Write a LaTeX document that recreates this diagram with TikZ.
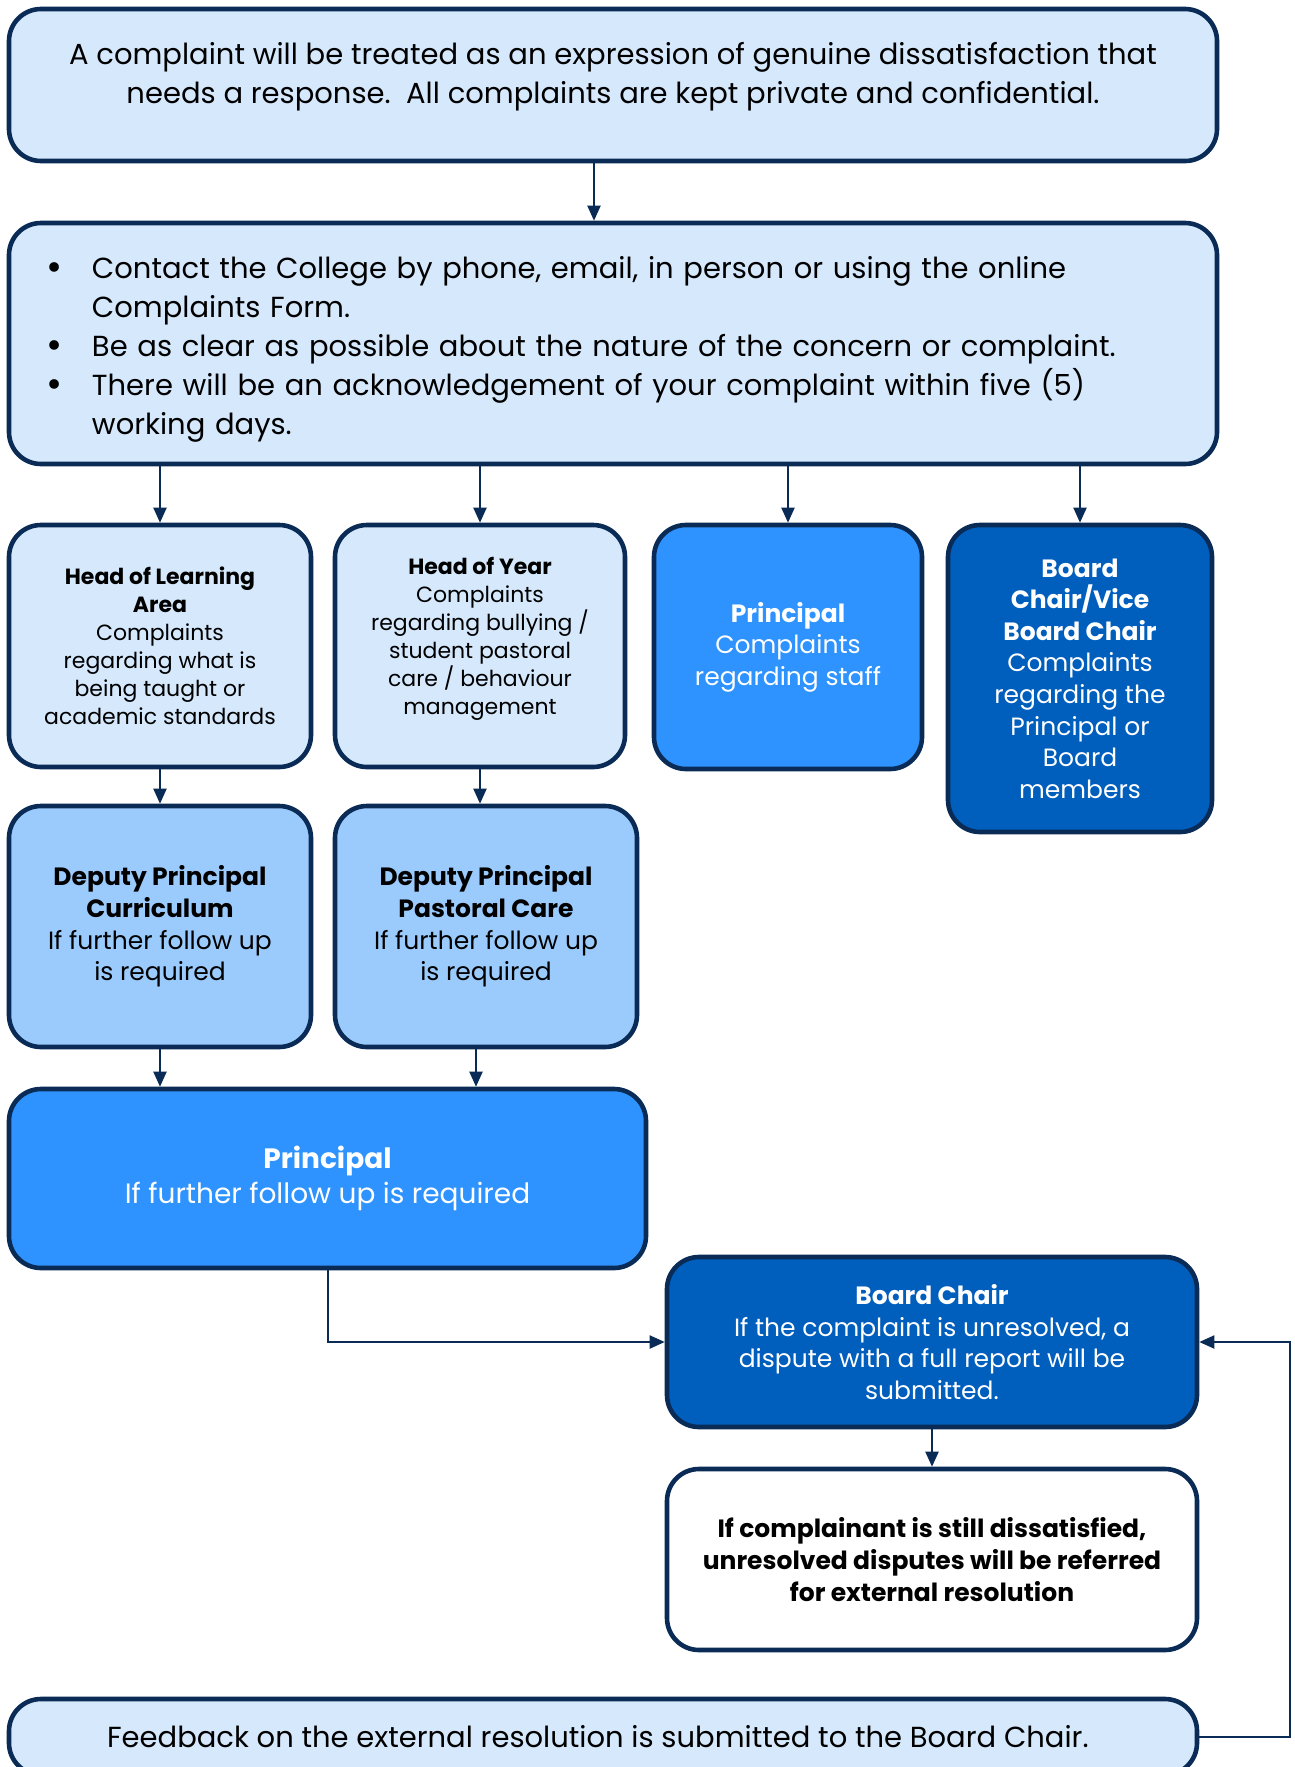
\documentclass[tikz,border=0pt]{standalone}
\usepackage{fontspec}
\setmainfont{Poppins}
\usepackage{xcolor}
\usepackage{tikz}
\definecolor{navy}{HTML}{0A2B55}
\definecolor{paleblue}{HTML}{D5E8FC}
\definecolor{midblue}{HTML}{9ACBFC}
\definecolor{brightblue}{HTML}{2E93FF}
\definecolor{deepblue}{HTML}{005EBD}
\usetikzlibrary{arrows.meta, positioning, calc}

\newcommand{\bul}{\makebox[20.5pt][l]{\hspace{-2pt}\raisebox{-0.8pt}{\scalebox{1.35}{\textbullet}}}}
\newcommand{\ind}{\hspace*{20.5pt}}

\begin{document}
\begin{tikzpicture}[x=0.5pt, y=-0.5pt,
    >={Triangle[length=7.5pt,width=6.5pt]},
    box/.style={draw=navy, line width=2.3pt, rounded corners=16pt, align=center, inner sep=0pt},
    lightbox/.style={box, fill=paleblue, text=black},
    midbox/.style={box, fill=midblue, text=black},
    brightbox/.style={box, fill=brightblue, text=white},
    darkbox/.style={box, fill=deepblue, text=white},
    whitebox/.style={box, fill=white, text=black},
    big/.style={font=\fontsize{14.5}{19.5}\selectfont},
    small/.style={font=\fontsize{11}{14}\selectfont},
    mid/.style={font=\fontsize{12.5}{15.8}\selectfont},
    link/.style={->, draw=navy, line width=1pt}]
    \useasboundingbox (0,0) rectangle (1295,1767);

    \node[lightbox, big, minimum width=604pt, minimum height=76pt] (intro) at (613,85) {
        A complaint will be treated as an expression of genuine dissatisfaction that\\
        needs a response.\ \ All complaints are kept private and confidential.\\[-7.5pt]\mbox{}
    };

    \node[lightbox, big, minimum width=604pt, minimum height=120.5pt, text width=562pt, align=left] (contact) at (613,343.5) {
        \rule{0pt}{17pt}\bul Contact the College by phone, email, in person or using the online\\
        \ind Complaints Form.\\
        \bul Be as clear as possible about the nature of the concern or complaint.\\
        \bul There will be an acknowledgement of your complaint within five (5)\\
        \ind working days.
    };

    \node[lightbox, small, minimum width=151pt, minimum height=121pt] (hola) at (160,646) {
        \textbf{Head of Learning}\\ \textbf{Area}\\ Complaints\\ regarding what is\\ being taught or\\ academic standards
    };
    \node[lightbox, small, minimum width=145pt, minimum height=121pt] (hoy) at (480,646) {
        \textbf{Head of Year}\\ Complaints\\ regarding bullying /\\ student pastoral\\ care / behaviour\\ management\\[-4pt]\mbox{}
    };
    \node[brightbox, mid, minimum width=134pt, minimum height=122pt] (princ) at (788,647) {
        \textbf{Principal}\\ Complaints\\ regarding staff
    };
    \node[darkbox, mid, minimum width=132pt, minimum height=153.5pt] (board) at (1080,678.5) {
        \textbf{Board}\\ \textbf{Chair/Vice}\\ \textbf{Board Chair}\\ Complaints\\ regarding the\\ Principal or\\ Board\\ members
    };

    \node[midbox, mid, minimum width=151pt, minimum height=120.5pt] (dpc) at (160,926.5) {
        \textbf{Deputy Principal}\\ \textbf{Curriculum}\\ If further follow up\\ is required
    };
    \node[midbox, mid, minimum width=151pt, minimum height=120.5pt] (dppc) at (486,926.5) {
        \textbf{Deputy Principal}\\ \textbf{Pastoral Care}\\ If further follow up\\ is required
    };

    \node[brightbox, font=\fontsize{14}{17.5}\selectfont, minimum width=318.5pt, minimum height=89.5pt] (princ2) at (327.5,1178.5) {
        \textbf{Principal}\\ If further follow up is required
    };

    \node[darkbox, mid, minimum width=265pt, minimum height=85pt] (bchair) at (932,1342) {
        \textbf{Board Chair}\\ If the complaint is unresolved, a\\ dispute with a full report will be\\ submitted.
    };
    \node[whitebox, font=\fontsize{12.5}{15.8}\selectfont\bfseries, minimum width=265pt, minimum height=90.5pt] (ext) at (932,1559.5) {
        If complainant is still dissatisfied,\\ unresolved disputes will be referred\\ for external resolution
    };

    \node[lightbox, big, minimum width=594pt, minimum height=38pt] (feedback) at (603,1737) {
        Feedback on the external resolution is submitted to the Board Chair.
    };
    \coordinate (loop) at (1290,1342);

    \draw[link] ([xshift=-9.5pt]intro.south) -- ([xshift=-9.5pt]contact.north);
    \foreach \n in {hola,hoy,princ,board}
        \draw[link] (contact.south -| \n.north) -- (\n.north);
    \draw[link] (hola.south) -- (dpc.north);
    \draw[link] (hoy.south) -- (hoy.south |- dppc.north);
    \draw[link] (dpc.south) -- (dpc.south |- princ2.north);
    \draw[link] ([xshift=-5pt]dppc.south) -- ([xshift=-5pt]dppc.south |- princ2.north);
    \draw[link] (princ2.south) |- (bchair.west);
    \draw[link] (bchair.south) -- (ext.north);
    \draw[link] (feedback.east) -| (loop) -- (bchair.east);
\end{tikzpicture}
\end{document}
